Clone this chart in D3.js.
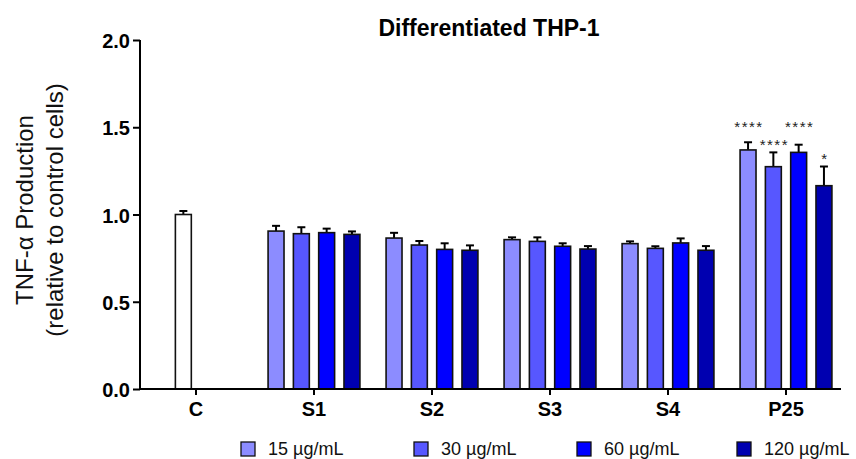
<!DOCTYPE html>
<html>
<head>
<meta charset="utf-8">
<script src="https://cdn.jsdelivr.net/npm/d3@7"></script>
<style>
  html, body { margin: 0; padding: 0; background: #fff; }
  svg { display: block; font-family: "Liberation Sans", Arial, sans-serif; }
</style>
</head>
<body>
<svg id="chart" width="856" height="459"></svg>
<script>
// Groups along the x axis
const categories = ["C", "S1", "S2", "S3", "S4", "P25"];
const treated = ["S1", "S2", "S3", "S4", "P25"];

// Concentration series
const series = ["15 µg/mL", "30 µg/mL", "60 µg/mL", "120 µg/mL"];
const seriesColors = ["#8c8cff", "#5757ff", "#0000ff", "#0000b0"];

// Control cells
const controlMean = 1.00;
const controlSem = 0.02;

// Mean TNF-α production (relative to control) per treated group, per concentration
const means15 = [0.905, 0.865, 0.856, 0.833, 1.370];
const means30 = [0.890, 0.825, 0.846, 0.806, 1.274];
const means60 = [0.896, 0.800, 0.818, 0.837, 1.356];
const means120 = [0.886, 0.795, 0.802, 0.795, 1.165];

// Upper error (SEM)
const sem15 = [0.030, 0.030, 0.013, 0.013, 0.044];
const sem30 = [0.037, 0.023, 0.023, 0.012, 0.082];
const sem60 = [0.023, 0.035, 0.017, 0.026, 0.044];
const sem120 = [0.017, 0.028, 0.017, 0.024, 0.110];

// Significance marks on the P25 group
const p25Stars = ["****", "****", "****", "*"];

// Y axis ticks
const yTicks = [0, 0.5, 1.0, 1.5, 2.0];
const yTickLabels = ["0.0", "0.5", "1.0", "1.5", "2.0"];

const meansBySeries = [means15, means30, means60, means120];
const semBySeries = [sem15, sem30, sem60, sem120];

const svg = d3.select("#chart");

const y = d3.scaleLinear().domain([0, 2]).range([389, 40]);

// group centres
const x = d3.scaleBand().domain(categories).range([137, 845]).paddingInner(0).paddingOuter(0);
const pitch = 25.3;
const barPad = 0.37;
const xSub = d3.scaleBand().domain(series).range([-2 * pitch, 2 * pitch])
  .paddingInner(barPad).paddingOuter(barPad / 2);
// control group holds two slots, the control bar in the first
const xCtrl = d3.scaleBand().domain(["ctrl", "none"]).range([-pitch, pitch])
  .paddingInner(barPad).paddingOuter(barPad / 2);
const center = c => x(c) + x.bandwidth() / 2;

// Bars data
const bars = [];
bars.push({ cat: "C", x: center("C") + xCtrl("ctrl"), w: xCtrl.bandwidth(),
  v: controlMean, e: controlSem, fill: "#ffffff" });
treated.forEach((cat, gi) => {
  series.forEach((s, si) => {
    bars.push({ cat, series: s, si, x: center(cat) + xSub(s), w: xSub.bandwidth(),
      v: meansBySeries[si][gi], e: semBySeries[si][gi], fill: seriesColors[si] });
  });
});

// error bars (upper only)
const eb = svg.append("g").attr("stroke", "#000").attr("stroke-width", 2);
bars.forEach(b => {
  const cx = b.x + b.w / 2;
  eb.append("line").attr("x1", cx).attr("x2", cx).attr("y1", y(b.v)).attr("y2", y(b.v + b.e));
  eb.append("line").attr("x1", cx - 4).attr("x2", cx + 4).attr("y1", y(b.v + b.e)).attr("y2", y(b.v + b.e));
});

svg.append("g").selectAll("rect").data(bars).join("rect")
  .attr("x", d => d.x)
  .attr("y", d => y(d.v))
  .attr("width", d => d.w)
  .attr("height", d => y(0) - y(d.v))
  .attr("fill", d => d.fill)
  .attr("stroke", "#111")
  .attr("stroke-width", 1.6);

// significance stars
const starLift = [17, 9, 20, 10];
const p25Bars = bars.filter(b => b.cat === "P25");
svg.append("g").selectAll("text").data(p25Bars).join("text")
  .attr("x", d => d.x + d.w / 2 + 1)
  .attr("y", (d, i) => y(d.v + d.e) - starLift[i] + 7)
  .attr("text-anchor", "middle")
  .attr("font-size", 15)
  .attr("letter-spacing", 1.5)
  .attr("fill", "#222")
  .text((d, i) => p25Stars[i]);

// Y axis
const yAxis = svg.append("g").attr("transform", "translate(140,0)")
  .call(d3.axisLeft(y).tickValues(yTicks).tickFormat((d, i) => yTickLabels[i]).tickSize(7).tickPadding(3));
yAxis.select(".domain").attr("stroke-width", 2).attr("d", `M0,${y(0)}V${y(2)}`);
yAxis.selectAll(".tick line").attr("stroke-width", 2);
yAxis.selectAll(".tick text").attr("font-size", 20).attr("font-weight", "bold")
  .attr("font-family", "Liberation Sans, Arial, sans-serif").attr("fill", "#000").attr("dy", "0.38em");

// X axis
const xAxis = svg.append("g").attr("transform", `translate(0,${y(0)})`)
  .call(d3.axisBottom(x).tickSize(6).tickPadding(7));
xAxis.select(".domain").attr("stroke-width", 2).attr("d", "M139,0H841");
xAxis.selectAll(".tick line").attr("stroke-width", 2);
xAxis.selectAll(".tick text").attr("font-size", 20).attr("font-weight", "bold")
  .attr("font-family", "Liberation Sans, Arial, sans-serif").attr("fill", "#000");

// Title
svg.append("text").attr("x", 489).attr("y", 36).attr("text-anchor", "middle")
  .attr("font-size", 23).attr("font-weight", "bold").text("Differentiated THP-1");

// Y axis title
const yt = svg.append("text").attr("transform", "translate(0,210) rotate(-90)")
  .attr("text-anchor", "middle").attr("font-size", 24).attr("fill", "#111");
yt.append("tspan").attr("x", 0).attr("y", 33).text("TNF-α Production");
yt.append("tspan").attr("x", 0).attr("y", 63).text("(relative to control cells)");

// Legend
const legendX = [241, 414, 577, 737];
const lg = svg.append("g").selectAll("g").data(series).join("g")
  .attr("transform", (d, i) => `translate(${legendX[i]},442)`);
lg.append("rect").attr("width", 14).attr("height", 14)
  .attr("fill", (d, i) => seriesColors[i]).attr("stroke", "#111").attr("stroke-width", 1.3);
lg.append("text").attr("x", 27).attr("y", 13).attr("font-size", 18).attr("fill", "#111")
  .text(d => d);
</script>
</body>
</html>
